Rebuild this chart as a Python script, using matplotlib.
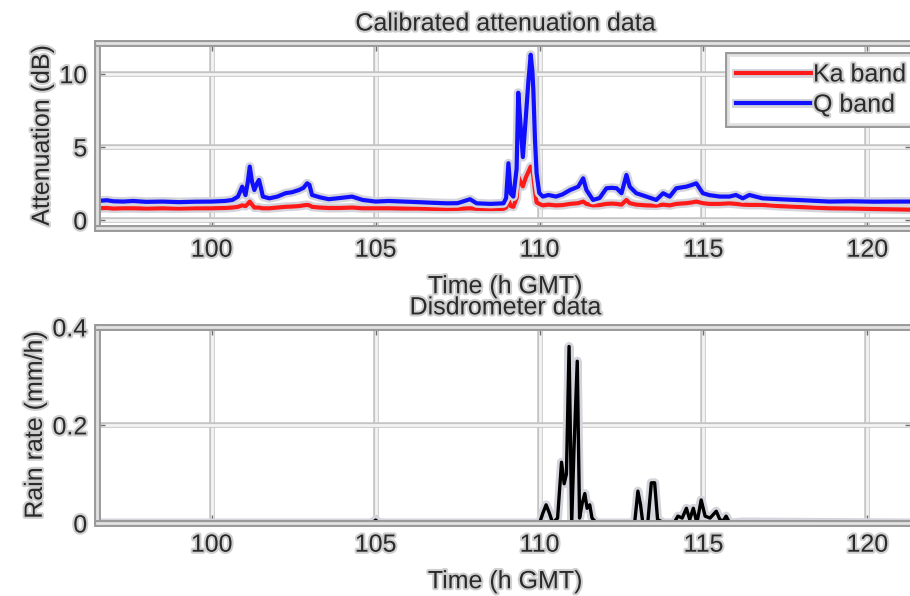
import numpy as np
import matplotlib
matplotlib.use('Agg')
import matplotlib.pyplot as plt
import matplotlib.patheffects as pe

plt.rcParams['font.family'] = ['Liberation Sans', 'DejaVu Sans']

# attenuation data (h GMT, dB)
t_att = [96.5, 96.8, 97.0, 97.3, 97.6, 98.0, 98.5, 99.0, 99.5, 100.0, 100.4, 100.63,
         100.8, 100.93, 101.03, 101.1, 101.16, 101.23, 101.3, 101.38, 101.44, 101.5,
         101.56, 101.76, 102.0, 102.25, 102.45, 102.66, 102.8, 102.91, 102.98, 103.06,
         103.3, 103.57, 103.9, 104.28, 104.6, 105.0, 105.4, 105.85, 106.3, 106.7,
         107.17, 107.5, 107.88, 108.08, 108.5, 108.9, 108.98, 109.05, 109.12, 109.2,
         109.3, 109.35, 109.42, 109.49, 109.58, 109.66, 109.73, 109.78, 109.81,
         109.86, 109.91, 109.99, 110.1, 110.27, 110.5, 110.7, 110.93, 111.18, 111.33,
         111.43, 111.63, 111.83, 112.04, 112.2, 112.35, 112.5, 112.65, 112.75, 112.95,
         113.26, 113.56, 113.77, 113.97, 114.17, 114.48, 114.65, 114.78, 114.98,
         115.18, 115.5, 115.79, 115.99, 116.2, 116.4, 116.8, 117.3, 117.82, 118.3,
         118.84, 119.5, 120.2, 121.0, 121.4]
q_band = [1.3, 1.35, 1.28, 1.26, 1.3, 1.24, 1.26, 1.22, 1.25, 1.26, 1.3, 1.37,
          1.6, 2.28, 1.7, 2.6, 3.65, 2.6, 2.05, 2.5, 2.74, 2.2,
          1.6, 1.48, 1.6, 1.83, 1.9, 2.05, 2.2, 2.51, 2.4, 1.71,
          1.55, 1.42, 1.5, 1.6, 1.37, 1.26, 1.3, 1.26, 1.22, 1.18,
          1.14, 1.15, 1.42, 1.14, 1.1, 1.14, 1.5, 3.88, 1.8, 1.6,
          3.5, 8.7, 6.5, 4.3, 7.0, 9.5, 11.3, 10.2, 8.9,
          5.5, 3.2, 1.85, 1.6, 1.71, 1.6, 1.75, 2.05, 2.28, 2.85,
          2.05, 1.37, 1.5, 2.17, 2.2, 2.17, 1.83, 3.08, 2.28, 1.83,
          1.6, 1.37, 1.83, 1.6, 2.17, 2.28, 2.4, 2.51, 1.83,
          1.7, 1.6, 1.6, 1.71, 1.48, 1.71, 1.48, 1.42, 1.37, 1.32,
          1.26, 1.28, 1.25, 1.26, 1.26]
ka_band = [0.8, 0.82, 0.78, 0.8, 0.8, 0.78, 0.8, 0.78, 0.8, 0.8, 0.82, 0.85,
           0.9, 1.0, 0.95, 1.1, 1.26, 1.05, 0.85, 0.85, 0.85, 0.82,
           0.8, 0.8, 0.85, 0.9, 0.92, 0.95, 1.0, 1.03, 1.0, 0.9,
           0.85, 0.82, 0.82, 0.85, 0.8, 0.8, 0.8, 0.78, 0.78, 0.76,
           0.75, 0.76, 0.8, 0.76, 0.75, 0.76, 0.85, 1.4, 0.95, 0.9,
           1.5, 2.97, 2.6, 2.3, 2.9, 3.3, 3.65, 3.4, 3.0,
           2.0, 1.2, 1.1, 1.0, 1.05, 1.0, 1.02, 1.1, 1.15, 1.26,
           1.1, 1.0, 1.02, 1.1, 1.12, 1.1, 1.05, 1.37, 1.15, 1.05,
           1.0, 0.98, 1.05, 1.0, 1.1, 1.15, 1.2, 1.26, 1.15,
           1.1, 1.1, 1.14, 1.1, 1.05, 1.03, 1.03, 0.95, 0.9, 0.85,
           0.8, 0.78, 0.75, 0.72, 0.7]

# disdrometer data (h GMT, mm/h)
t_rain = [96.5, 104.9, 105.0, 105.1, 110.0, 110.1, 110.2, 110.3, 110.4, 110.55,
          110.67, 110.75, 110.82, 110.9, 110.98, 111.05, 111.15, 111.22, 111.3,
          111.38, 111.45, 111.53, 111.6, 111.74, 112.9, 113.0, 113.08, 113.15,
          113.3, 113.41, 113.51, 113.6, 113.8, 114.1, 114.22, 114.35, 114.48,
          114.58, 114.69, 114.8, 114.93, 115.05, 115.2, 115.39, 115.5, 115.6,
          115.69, 115.8, 116.2, 121.4]
rain = [0.0, 0.0, 0.006, 0.0, 0.0, 0.02, 0.037, 0.02, 0.0, 0.01,
        0.124, 0.08, 0.1, 0.36, 0.0, 0.15, 0.33, 0.01, 0.04,
        0.06, 0.03, 0.037, 0.01, 0.0, 0.0, 0.065, 0.037, 0.0,
        0.0, 0.082, 0.082, 0.007, 0.0, 0.0, 0.014, 0.01, 0.03,
        0.007, 0.03, 0.0, 0.047, 0.014, 0.01, 0.024, 0.007, 0.004,
        0.014, 0.0, 0.002, 0.0]

halo = [pe.Stroke(linewidth=6.5, foreground='#d4d4dc'), pe.Normal()]
txt_halo = [pe.withStroke(linewidth=3, foreground='#cfcfcf')]
grid_fx = [pe.Stroke(linewidth=4, foreground='#c4c4c4'),
           pe.Stroke(linewidth=2, foreground='#f4f4f4')]
frame_fx = [pe.Stroke(linewidth=5, foreground='#9a9a9a'),
            pe.Stroke(linewidth=2, foreground='#e2e2e2')]
tc = '#2a2a2a'
fs = 18


def style_axes(ax):
    ax.grid(True, color='#e0e0e0', linewidth=1)
    for gl in ax.get_xgridlines() + ax.get_ygridlines():
        gl.set_path_effects(grid_fx)
    for sp in ax.spines.values():
        sp.set_color('#909090')
        sp.set_linewidth(1)
        sp.set_path_effects(frame_fx)
    ax.tick_params(direction='in', top=True, right=True, length=6, width=1,
                   color='#707070', labelsize=fs, labelcolor=tc, pad=7)
    for lab in ax.get_xticklabels() + ax.get_yticklabels():
        lab.set_path_effects(txt_halo)
    ax.set_axisbelow(True)


fig = plt.figure(figsize=(9.1, 5.96), dpi=100)

ax1 = fig.add_axes([0.1066, 0.6174, 0.897, 0.3104])
ax1.plot(t_att, ka_band, color='#ff1a1a', lw=3, label='Ka band', path_effects=halo)
ax1.plot(t_att, q_band, color='#1010ff', lw=3, label='Q band', path_effects=halo)
ax1.set_xlim(96.5, 121.4)
ax1.set_ylim(-0.55, 12.1)
ax1.set_xticks([100, 105, 110, 115, 120])
ax1.set_yticks([0, 5, 10])
style_axes(ax1)
ax1.set_title('Calibrated attenuation data', fontsize=fs, color=tc, pad=9,
              path_effects=txt_halo)
ax1.set_xlabel('Time (h GMT)', fontsize=fs, color=tc, labelpad=9, path_effects=txt_halo)
ax1.set_ylabel('Attenuation (dB)', fontsize=fs, color=tc, labelpad=4, path_effects=txt_halo)
leg = ax1.legend(loc='upper left', bbox_to_anchor=(728 / 910, 1 - 55 / 596),
                 bbox_transform=fig.transFigure, borderaxespad=0, fontsize=fs,
                 handlelength=3.0, handletextpad=0.1, borderpad=0.3, labelspacing=0.25,
                 fancybox=False, framealpha=1, edgecolor='#909090')
leg.get_frame().set_path_effects(frame_fx)
for txt in leg.get_texts():
    txt.set_color(tc)
    txt.set_path_effects(txt_halo)

ax2 = fig.add_axes([0.1066, 0.1225, 0.897, 0.329])
ax2.plot(t_rain, rain, color='black', lw=2.4, path_effects=halo)
ax2.set_xlim(96.5, 121.4)
ax2.set_ylim(0, 0.4)
ax2.set_xticks([100, 105, 110, 115, 120])
ax2.set_yticks([0, 0.2, 0.4])
ax2.set_yticklabels(['0', '0.2', '0.4'])
style_axes(ax2)
ax2.set_title('Disdrometer data', fontsize=fs, color=tc, pad=9, path_effects=txt_halo)
ax2.set_xlabel('Time (h GMT)', fontsize=fs, color=tc, labelpad=9, path_effects=txt_halo)
ax2.set_ylabel('Rain rate (mm/h)', fontsize=fs, color=tc, labelpad=4, path_effects=txt_halo)

fig.savefig('out.png', dpi=100)
